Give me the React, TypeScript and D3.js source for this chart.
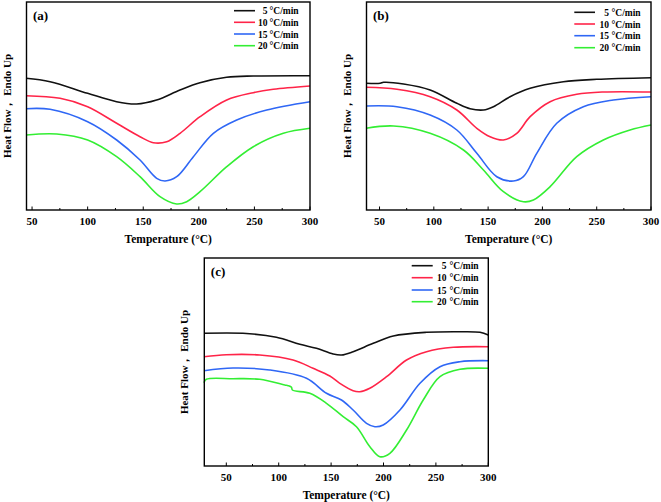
import React from "react";
import * as d3 from "d3";

const RATES = ["5", "10", "15", "20"];
const COLORS = ["#111111", "#ff2448", "#2f67f5", "#33ee33"];
const X_TICKS = [50, 100, 150, 200, 250, 300];
const X_MINOR = [75, 125, 175, 225, 275];

// Panel (a)
const A_T = [
  [44.6, 66.2, 100, 126, 144, 162, 183, 201, 225, 249, 300],
  [44.6, 75.2, 100, 126.1, 147.1, 159.1, 171.1, 183.1, 201.1, 225.1, 249, 267, 300],
  [44.6, 66.2, 100, 126.1, 147.1, 162.1, 169.6, 180.1, 195.1, 213.1, 234.1, 261.1, 300],
  [44.6, 72.2, 100, 126.1, 147.1, 165.1, 180.1, 189.1, 201.1, 225.1, 249, 276, 300],
];
const A_V = [
  [131.7, 128.3, 116.7, 108.3, 106, 110, 120, 127.3, 132.7, 134, 134.3],
  [114.3, 111.7, 103.3, 86.7, 73.3, 67.3, 68.3, 76.7, 93.3, 110, 117.3, 120.7, 124],
  [101.3, 100.7, 88.3, 70, 50, 31.7, 29, 33.3, 53.3, 76.7, 90, 100, 108.3],
  [75, 76, 70, 53.3, 33.3, 13.3, 6, 8.3, 18.3, 43.3, 63.3, 76.7, 81.7],
];

// Panel (b)
const B_T = [
  [37.7, 50.6, 53.7, 72.1, 96.6, 121.2, 133.4, 145.7, 154.9, 170.2, 188.7, 219.3, 250, 300],
  [37.7, 66, 96.6, 121.2, 139.6, 151.8, 164.1, 176.4, 188.7, 207.1, 231.6, 256.1, 300],
  [37.7, 66, 96.6, 121.2, 139.6, 158, 173.3, 182.5, 194.8, 213.2, 237.7, 265.3, 300],
  [37.7, 62.9, 96.6, 127.3, 145.7, 164.1, 182.5, 191.7, 207.1, 231.6, 256.1, 280.7, 300],
];
const B_V = [
  [126.7, 126.7, 127.7, 126, 120, 106.7, 101.3, 100, 103.3, 113.3, 121.7, 128.3, 130.7, 132.3],
  [122.7, 120.7, 113.3, 100, 81.7, 73.3, 70, 76.7, 93.3, 108.3, 115.7, 118, 118],
  [104, 103.3, 95, 80, 56.7, 33.3, 29, 33.3, 56.7, 86.7, 103.3, 110, 113.3],
  [81.7, 84, 76.7, 60, 40, 18.3, 8.3, 10, 23.3, 53.3, 70, 80, 85],
];

// Panel (c)
const C_T = [
  [28.7, 65.9, 97.8, 120.1, 136, 151.9, 159.9, 171, 190.2, 209.3, 241.1, 273, 292.1, 300],
  [28.7, 50, 81.9, 113.7, 132.8, 148.8, 158.3, 171, 177.4, 186.9, 202.9, 222, 241.1, 266.6, 300],
  [28.7, 56.4, 91.4, 126.5, 145.6, 159.9, 171, 183.8, 191.8, 199.7, 215.7, 234.8, 253.9, 273, 300],
  [28.7, 30.9, 56.4, 81.9, 105.8, 109, 112.2, 113.1, 129.7, 145.6, 161.5, 174.2, 187, 196.5, 206.1, 222, 237.9, 253.9, 273, 300],
];
const C_V = [
  [132.7, 132.7, 128.7, 121.7, 117.7, 112, 111, 114.3, 122.7, 130, 133.7, 134.3, 133.7, 131],
  [109.3, 111.3, 111, 106, 97.7, 90, 82.7, 75.3, 74.3, 77.7, 89.3, 106, 114.3, 118.7, 119.3],
  [95.3, 98, 96, 87.7, 72.7, 66, 56, 42.7, 39.3, 41, 56, 82.7, 99.3, 104.3, 105.3],
  [83.3, 86.7, 87.3, 86.7, 81, 80.3, 78.7, 76, 72.7, 62.7, 49.3, 39.3, 19.3, 9.3, 12.7, 36, 66, 89.3, 96.7, 97.7],
];

const FONT = "'Liberation Serif', 'Times New Roman', serif";

type Layout = {
  label: string;
  temps: number[][];
  vals: number[][];
  x0: number; x1: number; y0: number; y1: number;
  tmin: number;
  ylabX: number;
  legX0: number; legX1: number; numRight: number; unitX: number; legY: number[];
};

const PANELS: Layout[] = [
  { label: "(a)", temps: A_T, vals: A_V, x0: 26.5, x1: 310, y0: 2, y1: 210, tmin: 45, ylabX: 7,
    legX0: 234, legX1: 255, numRight: 267.5, unitX: 269.5, legY: [10.7, 22.3, 34, 45.7] },
  { label: "(b)", temps: B_T, vals: B_V, x0: 366.5, x1: 651, y0: 2, y1: 210, tmin: 38, ylabX: 347,
    legX0: 574.3, legX1: 595, numRight: 609, unitX: 611.5, legY: [12.3, 24, 35.7, 47.7] },
  { label: "(c)", temps: C_T, vals: C_V, x0: 204.3, x1: 488.3, y0: 258, y1: 466, tmin: 29, ylabX: 184,
    legX0: 411.7, legX1: 432.7, numRight: 446.5, unitX: 449.5, legY: [265.7, 277.7, 290, 301.7] },
];

function Panel({ p }: { p: Layout }) {
  const x = d3.scaleLinear().domain([p.tmin, 300]).range([p.x0, p.x1]);
  const y = d3.scaleLinear().domain([0, p.y1 - p.y0]).range([p.y1, p.y0]);
  const line = d3
    .line<[number, number]>()
    .x((d) => x(d[0]))
    .y((d) => y(d[1]))
    .curve(d3.curveCatmullRom.alpha(0.5));
  const cx = (p.x0 + p.x1) / 2;
  const cy = (p.y0 + p.y1) / 2;
  return (
    <g>
      {p.temps.map((ts, i) => (
        <path
          key={i}
          d={line(ts.map((t, j) => [t, p.vals[i][j]] as [number, number])) || ""}
          fill="none"
          stroke={COLORS[i]}
          strokeWidth={1.6}
        />
      ))}
      <rect x={p.x0} y={p.y0} width={p.x1 - p.x0} height={p.y1 - p.y0} fill="none" stroke="#000" strokeWidth={1.4} />
      {X_TICKS.map((t) => (
        <g key={t}>
          <line x1={x(t)} x2={x(t)} y1={p.y1} y2={p.y1 - 3.5} stroke="#000" strokeWidth={1} />
          <text x={x(t)} y={p.y1 + 14.5} textAnchor="middle" fontSize={11} fontWeight="bold" fontFamily={FONT}>
            {t}
          </text>
        </g>
      ))}
      {X_MINOR.map((t) => (
        <line key={t} x1={x(t)} x2={x(t)} y1={p.y1} y2={p.y1 - 2} stroke="#000" strokeWidth={1} />
      ))}
      <text x={cx} y={p.y1 + 33} textAnchor="middle" fontSize={11.5} fontWeight="bold" fontFamily={FONT}>
        Temperature (°C)
      </text>
      <text
        transform={`translate(${p.ylabX + 4},${cy}) rotate(-90)`}
        textAnchor="middle"
        fontSize={11}
        fontWeight="bold"
        fontFamily={FONT}
      >
        Heat Flow， Endo Up
      </text>
      <text x={p.x0 + 6.5} y={p.y0 + 18} fontSize={13} fontWeight="bold" fontFamily={FONT}>
        {p.label}
      </text>
      {RATES.map((r, i) => (
        <g key={r}>
          <line x1={p.legX0} x2={p.legX1} y1={p.legY[i]} y2={p.legY[i]} stroke={COLORS[i]} strokeWidth={1.6} />
          <text x={p.numRight} y={p.legY[i] + 3.5} textAnchor="end" fontSize={9.5} fontWeight="bold" fontFamily={FONT}>
            {r}
          </text>
          <text x={p.unitX} y={p.legY[i] + 3.5} fontSize={9.5} fontWeight="bold" fontFamily={FONT}>
            °C/min
          </text>
        </g>
      ))}
    </g>
  );
}

export default function App() {
  return (
    <svg
      width={661}
      height={502}
      viewBox="0 0 661 502"
      style={{ position: "absolute", left: 0, top: 0, background: "#fff" }}
    >
      {PANELS.map((p) => (
        <Panel key={p.label} p={p} />
      ))}
    </svg>
  );
}
